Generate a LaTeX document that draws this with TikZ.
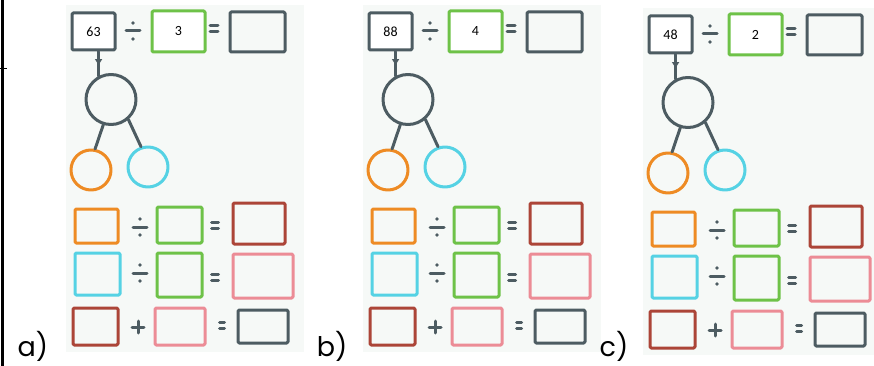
\documentclass[tikz,border=0pt]{standalone}
\usepackage{fontspec}
\setmainfont{Carlito}
\newfontfamily\labfont{Poppins}
\usetikzlibrary{decorations.markings,arrows.meta}

\definecolor{slate}{HTML}{4D5C62}
\definecolor{mgreen}{HTML}{6EC248}
\definecolor{morange}{HTML}{EE8B24}
\definecolor{mcyan}{HTML}{55D2E4}
\definecolor{mbrown}{HTML}{AC4538}
\definecolor{mpink}{HTML}{EC8C96}
\definecolor{sheetbg}{HTML}{F6F9F7}

\tikzset{
  x=1pt, y=-1pt,
  mk/.style={line width=3pt, line join=round, line cap=round},
  boxx/.style={draw, mk, inner sep=0pt, rounded corners=1.2pt, text=black,
    font=\fontsize{14}{15}\selectfont},
  ring/.style={draw, mk, circle, inner sep=0pt},
  sheetlabel/.style={font=\labfont\fontsize{27}{30}\selectfont, inner sep=0pt},
}

% operator glyphs, drawn in marker strokes
\newcommand\divsign[1]{%
  \begin{scope}[shift={#1}]
    \draw[slate, mk] (-7,0) -- (7,0);
    \fill[slate] (0,-8) circle[radius=1.8pt];
    \fill[slate] (0,8) circle[radius=1.8pt];
  \end{scope}}
\newcommand\eqsign[2]{% position, half width
  \begin{scope}[shift={#1}]
    \draw[slate, mk] (-#2,-3) -- (#2,-3);
    \draw[slate, mk] (-#2,3) -- (#2,3);
  \end{scope}}
\newcommand\plussign[1]{%
  \begin{scope}[shift={#1}]
    \draw[slate, mk] (-6,0) -- (6,0);
    \draw[slate, mk] (0,-6) -- (0,6);
  \end{scope}}

% one worksheet: #1 name prefix, #2 shift, #3 dividend, #4 divisor
\newcommand\sheet[4]{%
  \begin{scope}[shift={#2}]
    \fill[sheetbg] (66,5) rectangle (304,352);
    % first line: dividend / divisor = result
    \node[boxx, draw=slate, fill=white, minimum width=43pt, minimum height=37pt]
      (#1-n) at (93.5,31.5) {#3};
    \divsign{(133,31)}
    \node[boxx, draw=mgreen, fill=white, minimum width=53pt, minimum height=41pt]
      (#1-d) at (178.5,31.5) {#4};
    \eqsign{(214,29)}{4}
    \node[boxx, draw=slate, minimum width=55pt, minimum height=40pt]
      (#1-r) at (257.5,32) {};
    % splitting tree
    \node[ring, draw=slate, minimum size=50pt] (#1-c) at (111,99.5) {};
    \node[ring, draw=morange, minimum size=40pt] (#1-o) at (91,170) {};
    \node[ring, draw=mcyan, minimum size=40pt] (#1-y) at (148,167) {};
    \draw[slate, mk, postaction={decorate},
      decoration={markings, mark=at position 0.55 with
        {\arrow{Triangle[width=7pt,length=6pt]}}}]
      (#1-c.118 |- #1-n.south) -- (#1-c.118);
    \draw[slate, mk] (#1-c.-107) -- (#1-o.79);
    \draw[slate, mk] (#1-c.-49) -- (#1-y.109);
    % row 1
    \node[boxx, draw=morange, minimum width=43pt, minimum height=34pt] (#1-a1) at (96.5,226) {};
    \divsign{(140,227)}
    \node[boxx, draw=mgreen, minimum width=45pt, minimum height=36pt] (#1-b1) at (179.5,225) {};
    \eqsign{(215,225)}{3.5}
    \node[boxx, draw=mbrown, minimum width=52pt, minimum height=41pt] (#1-c1) at (259,223.5) {};
    % row 2
    \node[boxx, draw=mcyan, minimum width=45pt, minimum height=42pt] (#1-a2) at (97.5,274) {};
    \divsign{(140,273)}
    \node[boxx, draw=mgreen, minimum width=45pt, minimum height=44pt] (#1-b2) at (179.5,275) {};
    \eqsign{(215,277)}{3.5}
    \node[boxx, draw=mpink, minimum width=60pt, minimum height=44pt] (#1-c2) at (263,276) {};
    % row 3
    \node[boxx, draw=mbrown, minimum width=45pt, minimum height=37pt] (#1-a3) at (95.5,326.5) {};
    \plussign{(138,327)}
    \node[boxx, draw=mpink, minimum width=50pt, minimum height=37pt] (#1-b3) at (180,326.5) {};
    \eqsign{(222,325)}{2.5}
    \node[boxx, draw=slate, minimum width=50pt, minimum height=33pt] (#1-c3) at (263,326.5) {};
  \end{scope}}

\begin{document}
\begin{tikzpicture}
  \useasboundingbox (0,0) rectangle (874,366);
  \fill[white] (0,0) rectangle (874,366);
  % page margin rule
  \draw[line width=2.2pt] (2.5,0) -- (2.5,366);
  \draw[line width=1.5pt] (0,68.5) -- (7,68.5);

  \sheet{pa}{(0,0)}{63}{3}
  \sheet{pb}{(297,0)}{88}{4}
  \sheet{pc}{(577,3)}{48}{2}

  \node[sheetlabel] (lab-a) at (33,346) {a)};
  \node[sheetlabel] (lab-b) at (332,346) {b)};
  \node[sheetlabel] (lab-c) at (614,346) {c)};
\end{tikzpicture}
\end{document}
